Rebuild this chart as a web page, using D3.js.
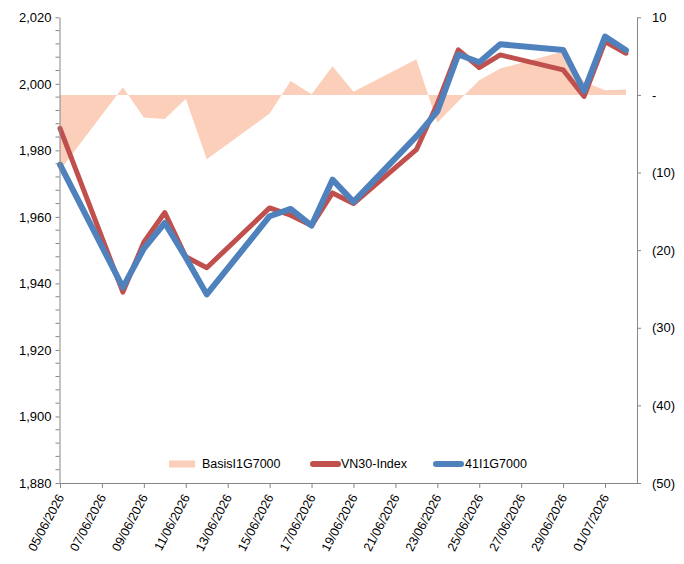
<!DOCTYPE html>
<html>
<head>
<meta charset="utf-8">
<script src="https://cdn.jsdelivr.net/npm/d3@7"></script>
<style>
  body { margin: 0; background: #fff; }
  svg { font-family: "Liberation Sans", Arial, sans-serif; }
</style>
</head>
<body>
<svg class="chart"></svg>
<script>
// trading days shown on the chart
var dates = ["05/06/2026", "08/06/2026", "09/06/2026", "10/06/2026", "11/06/2026",
    "12/06/2026", "15/06/2026", "16/06/2026", "17/06/2026", "18/06/2026",
    "19/06/2026", "22/06/2026", "23/06/2026", "24/06/2026", "25/06/2026",
    "26/06/2026", "29/06/2026", "30/06/2026", "01/07/2026", "02/07/2026"];

var vn30 = [1986.6, 1937.4, 1952.4, 1961.3, 1948.0, 1944.7, 1962.7, 1960.5, 1957.4, 1967.2,
    1964.0, 1980.2, 1994.0, 2010.2, 2004.9, 2008.7, 2004.2, 1996.2, 2012.7, 2009.2];

var fut = [1975.7, 1938.8, 1950.5, 1958.2, 1947.8, 1936.7, 1960.2, 1962.4, 1957.4, 1971.2,
    1964.5, 1984.2, 1991.7, 2008.8, 2006.5, 2011.9, 2010.2, 1997.8, 2014.2, 2010.1];

var basis = [-9.7, 1.0, -2.9, -3.1, -0.5, -8.3, -2.4, 1.8, 0.1, 3.7,
    0.4, 4.6, -3.6, -0.8, 1.9, 3.4, 5.6, 1.7, 0.6, 0.7];

var tickLabels = ["05/06/2026", "07/06/2026", "09/06/2026", "11/06/2026", "13/06/2026",
    "15/06/2026", "17/06/2026", "19/06/2026", "21/06/2026", "23/06/2026",
    "25/06/2026", "27/06/2026", "29/06/2026", "01/07/2026"];

var leftTicks = [1880, 1900, 1920, 1940, 1960, 1980, 2000, 2020];
var rightTicks = [-50, -40, -30, -20, -10, 0, 10];

var seriesNames = ["BasisI1G7000", "VN30-Index", "41I1G7000"];

(function show() {
    'use strict';

    var width = 684, height = 564;
    var left = 59.5, right = 637, top = 17.3, bottom = 483;

    var parse = d3.timeParse("%d/%m/%Y");
    var fmtNum = d3.format(",");

    var svg = d3.select(".chart")
        .attr("width", width)
        .attr("height", height);

    // date axis, ~21px per day, axis runs a bit past the last day
    var x = d3.scaleTime()
        .domain([parse(dates[0]), parse(dates[dates.length - 1])])
        .range([left + 0.5, 626]);
    var y = d3.scaleLinear().domain([1880, 2020]).range([bottom, top]);
    var y2 = d3.scaleLinear().domain([-50, 10]).range([bottom, top]);

    var rows = dates.map(function (d, i) {
        return {date: parse(d), vn30: vn30[i], fut: fut[i], basis: basis[i]};
    });

    // basis area against the right axis
    svg.append("path")
        .datum(rows)
        .attr("fill", "#fbcfb9")
        .attr("d", d3.area()
            .x(function (d) { return x(d.date); })
            .y0(y2(0))
            .y1(function (d) { return y2(d.basis); }));

    var line = function (key) {
        return d3.line()
            .x(function (d) { return x(d.date); })
            .y(function (d) { return y(d[key]); });
    };

    svg.append("path")
        .datum(rows)
        .attr("fill", "none")
        .attr("stroke", "#c0504d")
        .attr("stroke-width", 5)
        .attr("stroke-linejoin", "round")
        .attr("stroke-linecap", "round")
        .attr("d", line("vn30"));

    svg.append("path")
        .datum(rows)
        .attr("fill", "none")
        .attr("stroke", "#4f81bd")
        .attr("stroke-width", 6)
        .attr("stroke-linejoin", "round")
        .attr("stroke-linecap", "round")
        .attr("d", line("fut"));

    // left axis
    var yAxis = svg.append("g")
        .attr("transform", "translate(" + left + ",0)")
        .call(d3.axisLeft(y).tickValues(leftTicks).tickFormat(fmtNum).tickSize(4).tickSizeOuter(0).tickPadding(4));
    // minor ticks every 4
    yAxis.selectAll(".minor")
        .data(d3.range(1880, 2021, 4).filter(function (v) { return v % 20 !== 0; }))
        .enter().append("line")
        .attr("class", "minor")
        .attr("x1", -4).attr("x2", 0)
        .attr("y1", function (v) { return y(v); })
        .attr("y2", function (v) { return y(v); });

    // right axis
    var y2Axis = svg.append("g")
        .attr("transform", "translate(" + right + ",0)")
        .call(d3.axisRight(y2).tickValues(rightTicks).tickSize(4).tickSizeOuter(0).tickPadding(11)
            .tickFormat(function (v) { return v === 0 ? "-" : v < 0 ? "(" + (-v) + ")" : v; }));

    // bottom axis
    var xAxis = svg.append("g")
        .attr("transform", "translate(0," + bottom + ")")
        .call(d3.axisBottom(x).tickValues(tickLabels.map(parse)).tickSize(5).tickSizeOuter(0)
            .tickFormat(d3.timeFormat("%d/%m/%Y")));
    xAxis.select(".domain").attr("d", "M" + left + ",0.5H" + right);
    xAxis.selectAll(".tick text")
        .attr("text-anchor", "end")
        .attr("dy", null)
        .attr("y", 0)
        .attr("transform", "translate(4,14) rotate(-62)");

    [yAxis, y2Axis, xAxis].forEach(function (g) {
        g.selectAll(".domain, line").attr("stroke", "#868686");
        g.selectAll("text").attr("fill", "#000").style("font-size", "13px");
    });
    xAxis.selectAll("text").style("font-size", "12.5px");

    // legend
    var legend = svg.append("g").attr("transform", "translate(0,464)");
    var items = [
        {x: 169, tx: 202, color: "#fbcfb9", kind: "area"},
        {x: 311, tx: 341, color: "#c0504d", kind: "line"},
        {x: 434, tx: 465, color: "#4f81bd", kind: "line"}
    ];
    items.forEach(function (it, i) {
        if (it.kind === "area") {
            legend.append("rect")
                .attr("x", it.x).attr("y", -3.5)
                .attr("width", 26).attr("height", 7)
                .attr("fill", it.color);
        } else {
            legend.append("line")
                .attr("x1", it.x + 2).attr("x2", it.x + 27)
                .attr("y1", 0).attr("y2", 0)
                .attr("stroke", it.color)
                .attr("stroke-width", 6)
                .attr("stroke-linecap", "round");
        }
        legend.append("text")
            .attr("x", it.tx).attr("y", 0)
            .attr("dy", "0.35em")
            .style("font-size", "12.5px")
            .attr("fill", "#000")
            .text(seriesNames[i]);
    });
})();
</script>
</body>
</html>
